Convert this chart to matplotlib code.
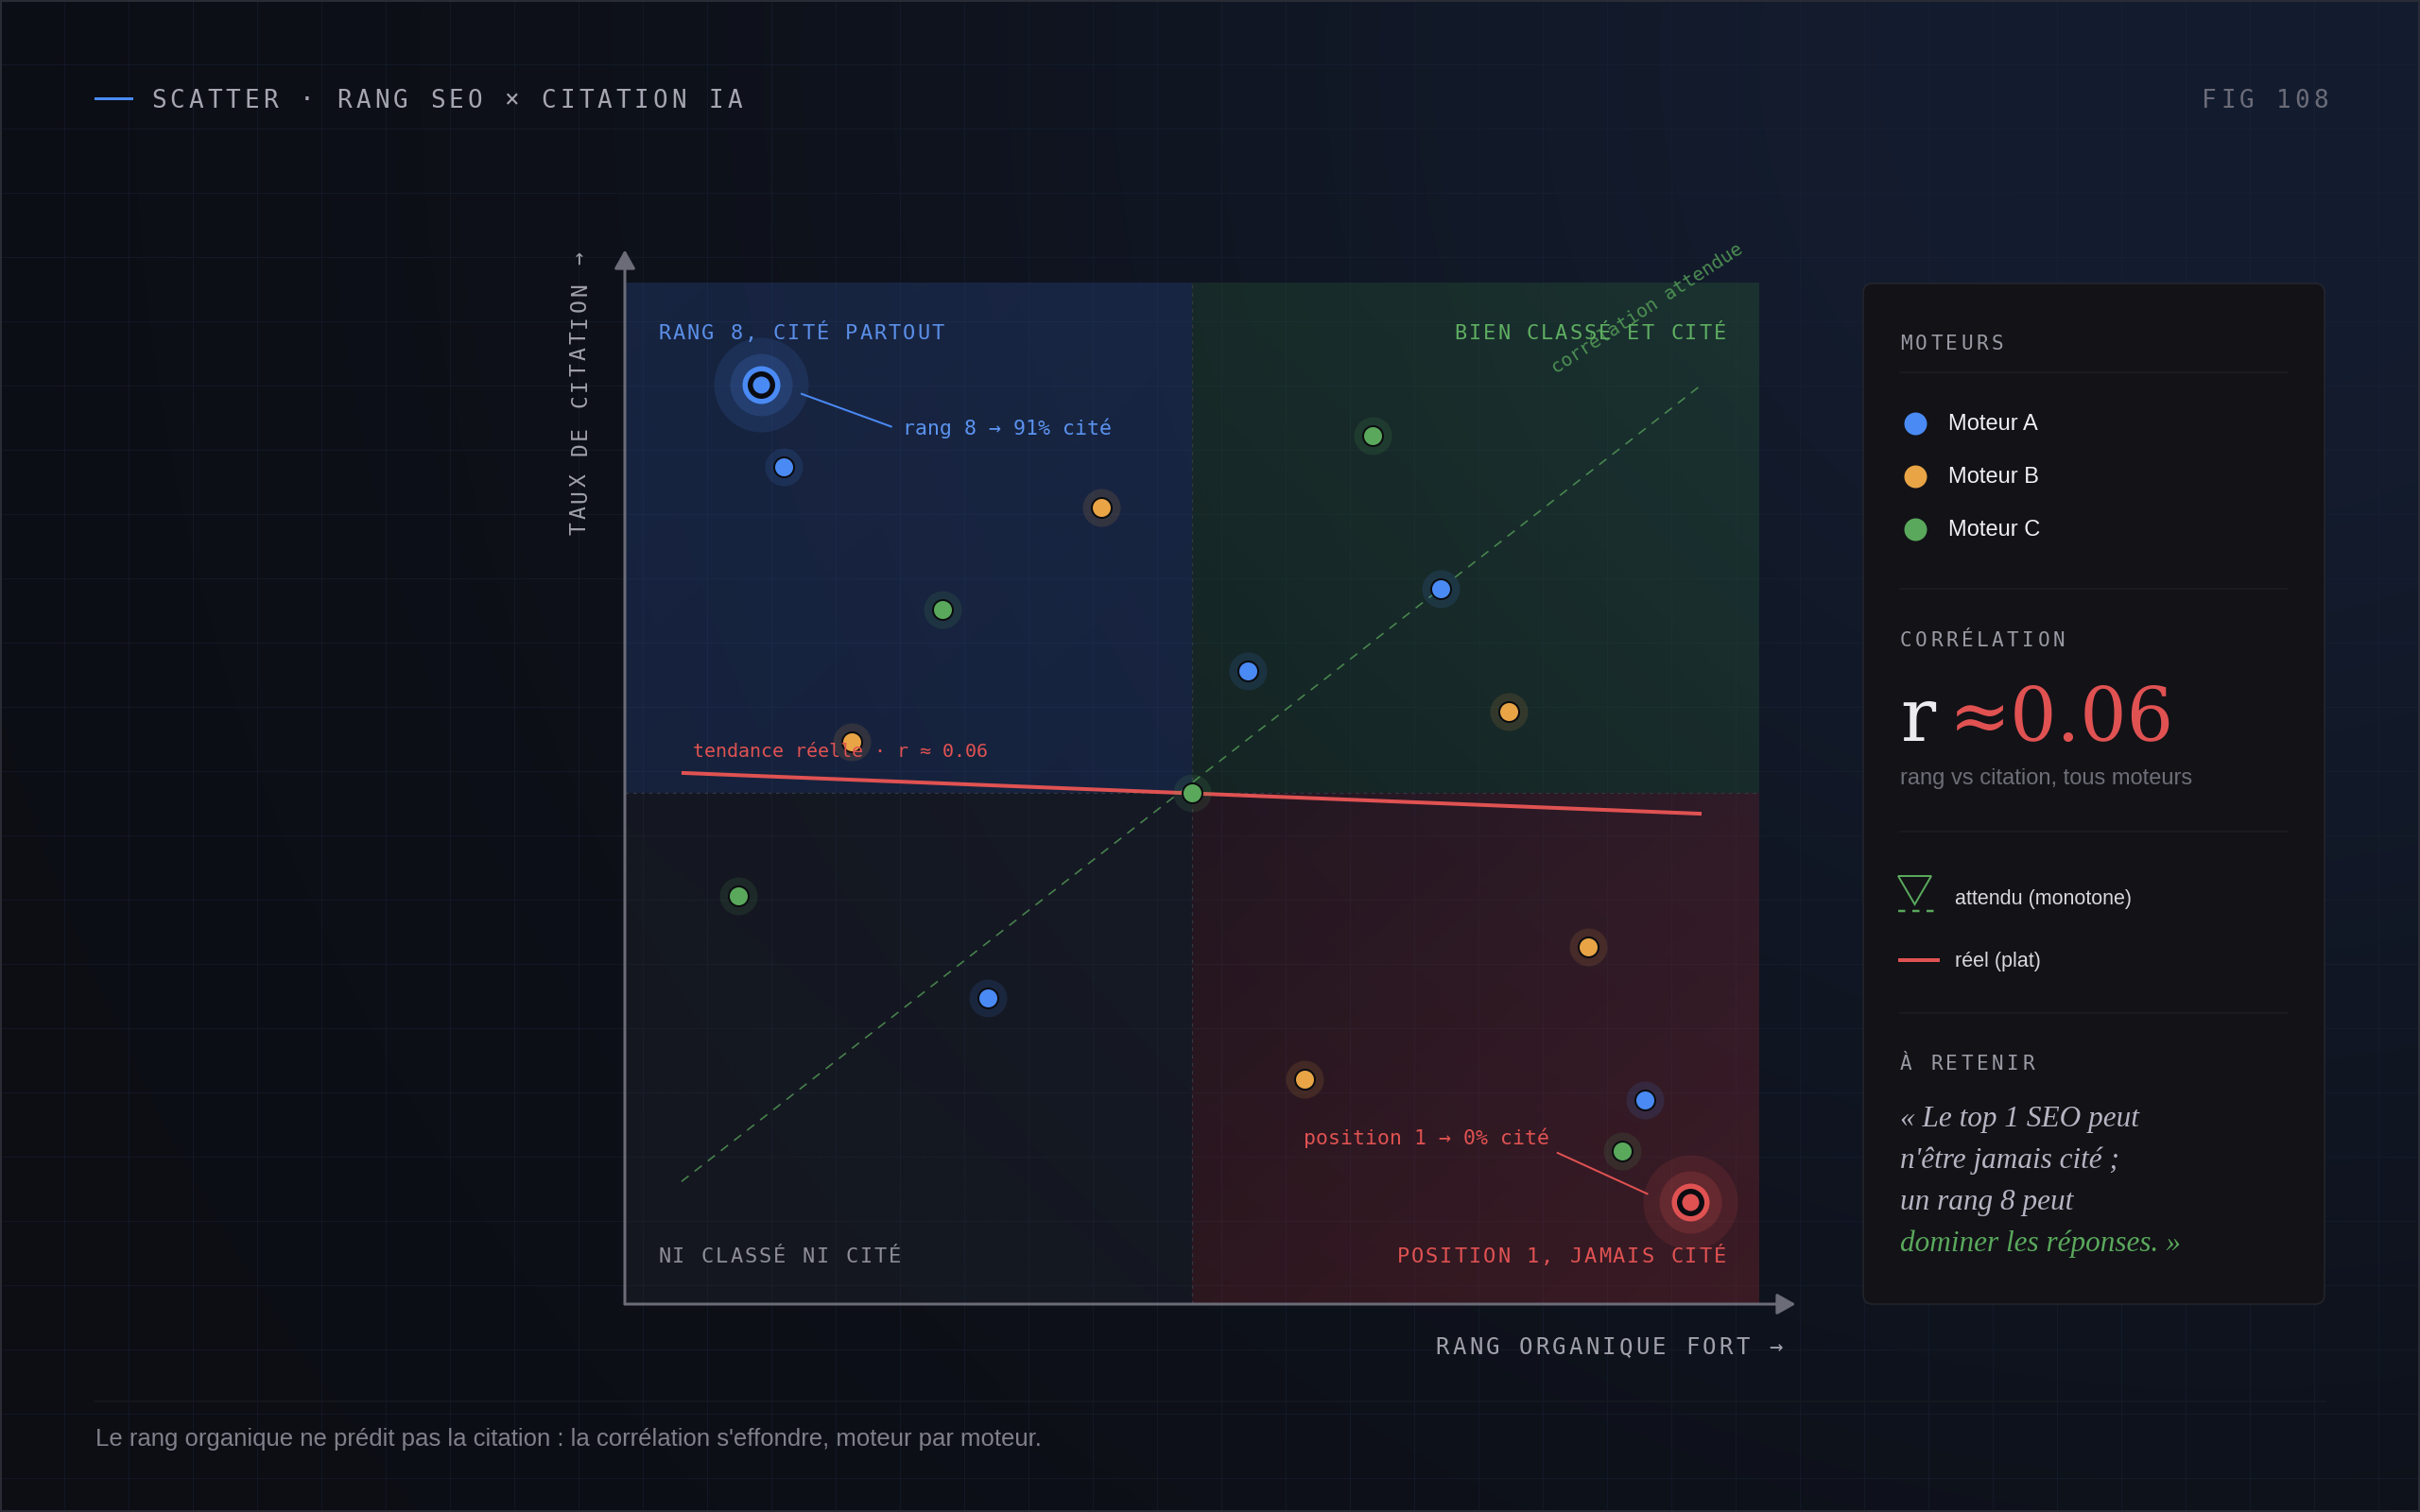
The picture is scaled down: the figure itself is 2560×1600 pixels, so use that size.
import numpy as np
import matplotlib
matplotlib.use("Agg")
import matplotlib.pyplot as plt
from matplotlib.patches import FancyBboxPatch, Polygon

# ---- data ----
moteur_a_x = [14, 55, 72, 32, 90]
moteur_a_y = [82, 62, 70, 30, 20]
moteur_b_x = [42, 20, 78, 85, 60]
moteur_b_y = [78, 55, 58, 35, 22]
moteur_c_x = [66, 28, 50, 10, 88]
moteur_c_y = [85, 68, 50, 40, 15]

rang8_point = (12, 90)      # highlighted, moteur A
top1_point = (94, 10)       # highlighted, position 1

expected_x = [5, 95]
expected_y = [12, 90]
trend_x = [5, 95]
trend_y = [52, 48]

engines = ["Moteur A", "Moteur B", "Moteur C"]
engine_colors = ["#4a8af4", "#e8a445", "#5aa85c"]
quote_lines = ["« Le top 1 SEO peut", "n'être jamais cité ;", "un rang 8 peut", "dominer les réponses. »"]

W, H = 2560, 1600
PX = 0.72  # points per pixel at dpi 100
MONO = "DejaVu Sans Mono"
SANS = "Liberation Sans"
RED = "#e05252"
BLUE = "#4a8af4"
GREEN = "#5aa85c"

fig = plt.figure(figsize=(25.6, 16), dpi=100)
fig.patch.set_facecolor("#0c0e14")

bg = fig.add_axes([0, 0, 1, 1], zorder=0)
bg.axis("off")

# background with a soft blue glow top right
yy, xx = np.mgrid[0:H:4, 0:W:4]
glow = np.exp(-((xx - 2350) ** 2 + (yy - 60) ** 2) / (2 * 950.0 ** 2))
base = np.array([12, 14, 20]) / 255
tint = np.array([8, 15, 28]) / 255
img = np.clip(base + glow[..., None] * tint, 0, 1)
bg.imshow(img, extent=(0, W, H, 0), zorder=0, interpolation="bilinear", aspect="auto")
bg.set_xlim(0, W)
bg.set_ylim(H, 0)

for g in range(68, W, 68):
    bg.plot([g, g], [0, H], color="#1a2438", lw=1 * PX, alpha=0.45, zorder=1)
for g in range(68, H, 68):
    bg.plot([0, W], [g, g], color="#1a2438", lw=1 * PX, alpha=0.45, zorder=1)
bg.add_patch(plt.Rectangle((1, 1), W - 2, H - 2, fill=False, ec="#2a2c35", lw=2 * PX, zorder=2))

# right panel
bg.add_patch(FancyBboxPatch((1971, 300), 488, 1080, boxstyle="round,pad=0,rounding_size=10",
                            fc="#121217", ec="#25262d", lw=1.5 * PX, zorder=3))
for sy in [394, 623, 880, 1072]:
    bg.plot([2010, 2420], [sy, sy], color="#1d1e25", lw=1.5 * PX, zorder=4)
bg.plot([100, 2460], [1483, 1483], color="#171921", lw=1.5 * PX, zorder=4)

# ---- main scatter axes ----
ax = fig.add_axes([661 / W, (H - 1380) / H, 1199 / W, 1081 / H], zorder=2)
ax.set_xlim(0, 100)
ax.set_ylim(0, 100)
ax.axis("off")


def quadrant(x0, x1, y0, y1, color, a_in, a_out):
    gx, gy = np.meshgrid(np.linspace(x0, x1, 60), np.linspace(y0, y1, 60))
    t = (np.abs(gx - 50) / 50 + np.abs(gy - 50) / 50) / 2
    rgba = np.zeros((60, 60, 4))
    rgba[..., :3] = matplotlib.colors.to_rgb(color)
    rgba[..., 3] = a_in + (a_out - a_in) * t
    ax.imshow(rgba, extent=(x0, x1, y0, y1), origin="lower", aspect="auto",
              interpolation="bilinear", zorder=1)


quadrant(0, 50, 50, 100, "#2b4a8c", 0.30, 0.34)
quadrant(50, 100, 50, 100, "#2e6a3c", 0.20, 0.30)
quadrant(0, 50, 0, 50, "#2a2e3a", 0.26, 0.28)
quadrant(50, 100, 0, 50, "#8c2a32", 0.16, 0.36)
ax.set_xlim(0, 100)
ax.set_ylim(0, 100)

ax.plot([50, 50], [0, 100], color="#343844", lw=1.2 * PX, dashes=(3, 4), zorder=2)
ax.plot([0, 100], [50, 50], color="#343844", lw=1.2 * PX, dashes=(3, 4), zorder=2)

# axes arrows
arrow_kw = dict(arrowstyle="-|>,head_length=0.8,head_width=0.45", mutation_scale=15,
                color="#6c6c78", lw=3 * PX, shrinkA=0, shrinkB=0)
ax.annotate("", xy=(0, 103.2), xytext=(0, 0), arrowprops=arrow_kw, annotation_clip=False, zorder=3)
ax.annotate("", xy=(103.3, 0), xytext=(0, 0), arrowprops=arrow_kw, annotation_clip=False, zorder=3)

# expected vs real trend
ax.plot(expected_x, expected_y, color=GREEN, lw=1.6 * PX, dashes=(6, 5), alpha=0.75, zorder=3)
ax.plot(trend_x, trend_y, color=RED, lw=4 * PX, zorder=4, solid_capstyle="butt")

# dots
for xs, ys, c in [(moteur_a_x, moteur_a_y, engine_colors[0]),
                  (moteur_b_x, moteur_b_y, engine_colors[1]),
                  (moteur_c_x, moteur_c_y, engine_colors[2])]:
    ax.scatter(xs, ys, s=(40 * PX) ** 2, color=c, alpha=0.13, lw=0, zorder=5)
    ax.scatter(xs, ys, s=(21 * PX) ** 2, color=c, ec="#0b0c10", lw=2 * PX, zorder=6)


def highlight(pt, c):
    ax.scatter(*pt, s=(100 * PX) ** 2, color=c, alpha=0.12, lw=0, zorder=5)
    ax.scatter(*pt, s=(66 * PX) ** 2, color=c, alpha=0.18, lw=0, zorder=5)
    ax.scatter(*pt, s=(40 * PX) ** 2, color=c, lw=0, zorder=6)
    ax.scatter(*pt, s=(29 * PX) ** 2, color="#0b0c12", lw=0, zorder=7)
    ax.scatter(*pt, s=(18 * PX) ** 2, color=c, lw=0, zorder=8)


highlight(rang8_point, BLUE)
highlight(top1_point, RED)

ax.plot([15.6, 23.5], [89.1, 85.9], color=BLUE, lw=2 * PX, zorder=4)
ax.text(24.5, 85.7, "rang 8 → 91% cité", color="#5b93f0", fontsize=15.5, family=MONO,
        va="center", ha="left", zorder=9)
ax.plot([82.3, 90.2], [14.8, 10.8], color=RED, lw=2 * PX, zorder=4)
ax.text(81.6, 16.3, "position 1 → 0% cité", color=RED, fontsize=15.5, family=MONO,
        va="center", ha="right", zorder=9)
ax.text(6.0, 54.1, "tendance réelle · r ≈ 0.06", color=RED, fontsize=14.4, family=MONO,
        va="center", ha="left", zorder=9)
ax.text(90.2, 97.4, "corrélation attendue", color=GREEN, fontsize=14.2, family=MONO,
        rotation=33, va="center", ha="center", alpha=0.8, zorder=9, rotation_mode="anchor")

# ---- overlay for text ----
top = fig.add_axes([0, 0, 1, 1], zorder=5)
top.set_xlim(0, W)
top.set_ylim(H, 0)
top.axis("off")


def mono(x, y, s, px, track, color, ha="left", rot=False):
    adv = 0.602 * px + track
    total = adv * len(s) - track
    for i, ch in enumerate(s):
        if rot:
            # reads bottom to top, y is the lower end
            top.text(x, y - i * adv, ch, fontsize=px * PX, family=MONO, color=color,
                     rotation=90, rotation_mode="anchor", ha="left", va="baseline")
        else:
            start = x - total if ha == "right" else x
            top.text(start + i * adv, y, ch, fontsize=px * PX, family=MONO, color=color,
                     ha="left", va="baseline")


top.plot([101, 139], [104, 104], color=BLUE, lw=3 * PX)
mono(160, 113.5, "SCATTER · RANG SEO × CITATION IA", 26, 4, "#a6a6b2")
mono(2463, 113.5, "FIG 108", 26, 4, "#6b6b78", ha="right")

mono(696, 359, "RANG 8, CITÉ PARTOUT", 22, 2, "#5b8fe8")
mono(1826, 359, "BIEN CLASSÉ ET CITÉ", 22, 2, "#5fae62", ha="right")
mono(696, 1336, "NI CLASSÉ NI CITÉ", 22, 2, "#8e8e98")
mono(1826, 1336, "POSITION 1, JAMAIS CITÉ", 22, 2, RED, ha="right")

mono(1886, 1433, "RANG ORGANIQUE FORT →", 24, 3.2, "#a0a0aa", ha="right")
mono(620, 566, "TAUX DE CITATION →", 23, 3, "#a0a0aa", rot=True)

# panel content
mono(2010, 370, "MOTEURS", 21, 3.5, "#9a9aa4")
for i, (name, c) in enumerate(zip(engines, engine_colors)):
    yv = 448 + i * 56
    top.scatter([2026], [yv], s=(24 * PX) ** 2, color=c, lw=0)
    top.text(2061, yv + 1, name, fontsize=17, family=SANS, color="#f0f0f4", va="center", ha="left")

mono(2010, 684, "CORRÉLATION", 21, 3.5, "#9a9aa4")
top.text(2010, 784, "r", fontsize=56, family="DejaVu Serif", color="#ececf0", va="baseline")
top.text(2062, 784, "≈0.06", fontsize=56, family="DejaVu Serif", color=RED, va="baseline")
top.text(2010, 830, "rang vs citation, tous moteurs", fontsize=17, family=SANS,
         color="#6e6e78", va="baseline")

top.add_patch(Polygon([(2008, 927), (2043, 927), (2025.5, 957)], closed=True, fill=False,
                      ec=GREEN, lw=2 * PX))
top.plot([2008, 2048], [964, 964], color=GREEN, lw=2.5 * PX, dashes=(3, 3))
top.text(2068, 952, "attendu (monotone)", fontsize=15.5, family=SANS, color="#d8d8de", va="center")
top.plot([2008, 2052], [1016, 1016], color=RED, lw=4 * PX, solid_capstyle="butt")
top.text(2068, 1017, "réel (plat)", fontsize=15.5, family=SANS, color="#d8d8de", va="center")

mono(2010, 1132, "À RETENIR", 21, 3.5, "#9a9aa4")
for i, line in enumerate(quote_lines):
    c = GREEN if i == 3 else "#b6b4c2"
    top.text(2010, 1192 + i * 44, line, fontsize=22.5, family="Liberation Serif", style="italic",
             color=c, va="baseline")

top.text(101, 1530, "Le rang organique ne prédit pas la citation : la corrélation s'effondre, moteur par moteur.",
         fontsize=18.5, family=SANS, color="#80808a", va="baseline")

fig.savefig("out.png", dpi=100, facecolor=fig.get_facecolor())
